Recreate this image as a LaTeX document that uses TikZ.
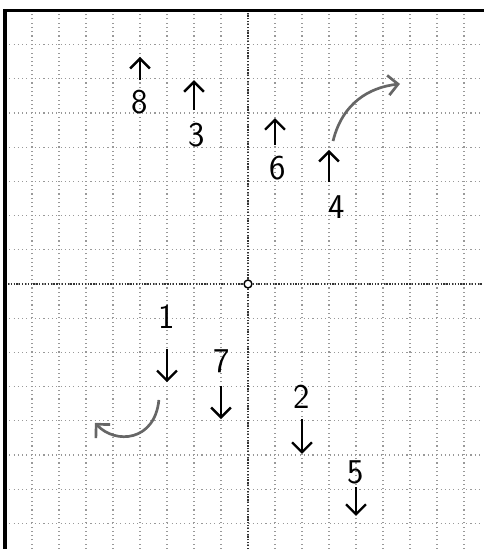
\documentclass[tikz,border=0pt]{standalone}
\usepackage{amsmath}
\usepackage{tikz}
\usetikzlibrary{arrows.meta}

\begin{document}
\begin{tikzpicture}[x=0.6cm, y=0.76cm]
    % Styles
    \tikzstyle{gridline} = [gray!80, dotted, line width=0.7pt]
    \tikzstyle{axisline} = [black!80, densely dotted, line width=0.8pt]
    \tikzstyle{border} = [black, line width=2pt, line cap=rect]
    \tikzstyle{arrow} = [-{Straight Barb[length=2.2mm, width=4.4mm]}, line width=1.5pt, black]
    \tikzstyle{swing} = [arrow, black!60, line width=1.7pt]
    \tikzstyle{num} = [font=\fontsize{22}{22}\selectfont\sffamily, inner sep=0pt]

    \useasboundingbox (-9.185, -7.749) rectangle (8.704, 8.304);

    % Grid and axes
    \foreach \i in {-8,...,8}
        \draw[gridline] (\i, -7.749) -- (\i, 8);
    \foreach \j in {-7,...,7}
        \draw[gridline] (-9, \j) -- (8.704, \j);
    \draw[axisline] (-9, 0) -- (8.704, 0);
    \draw[axisline] (0, -7.749) -- (0, 8);
    \draw[border] (-9, -7.749) -- (-9, 8) -- (8.704, 8);
    \node[circle, draw, line width=0.9pt, inner sep=0pt, minimum size=5pt, fill=white] (O) at (0, 0) {};

    % Labels
    \node[num] (n8) at (-4, 5.32) {8};
    \node[num] (n3) at (-1.9, 4.36) {3};
    \node[num] (n6) at (1.1, 3.39) {6};
    \node[num] (n4) at (3.3, 2.25) {4};
    \node[num] (n1) at (-3, -0.96) {1};
    \node[num] (n7) at (-0.96, -2.25) {7};
    \node[num] (n2) at (2, -3.3) {2};
    \node[num] (n5) at (4, -5.5) {5};

    % Arrow ends
    \coordinate (t8) at (-4, 5.96);   \coordinate (h8) at (-4, 6.64);
    \coordinate (t3) at (-2, 5.09);   \coordinate (h3) at (-2, 5.96);
    \coordinate (t6) at (1, 4.06);    \coordinate (h6) at (1, 4.85);
    \coordinate (t4) at (3, 2.98);    \coordinate (h4) at (3, 3.92);
    \coordinate (t1) at (-3, -1.9);   \coordinate (h1) at (-3, -2.87);
    \coordinate (t7) at (-1, -2.98);  \coordinate (h7) at (-1, -3.95);
    \coordinate (t2) at (2, -3.95);   \coordinate (h2) at (2, -4.97);
    \coordinate (t5) at (4, -5.94);   \coordinate (h5) at (4, -6.78);
    \coordinate (su) at (3.15, 4.18); \coordinate (eu) at (5.63, 5.85);
    \coordinate (sl) at (-3.3, -3.39); \coordinate (el) at (-5.67, -4.06);

    % Arrows
    \foreach \k in {8,3,6,4,1,7,2,5}
        \draw[arrow] (t\k) -- (h\k);
    \draw[swing] (su) .. controls (3.5, 5.3) and (4.5, 5.75) .. (eu);
    \draw[swing] (sl) .. controls (-3.45, -4.6) and (-4.9, -4.7) .. (el);
\end{tikzpicture}
\end{document}
